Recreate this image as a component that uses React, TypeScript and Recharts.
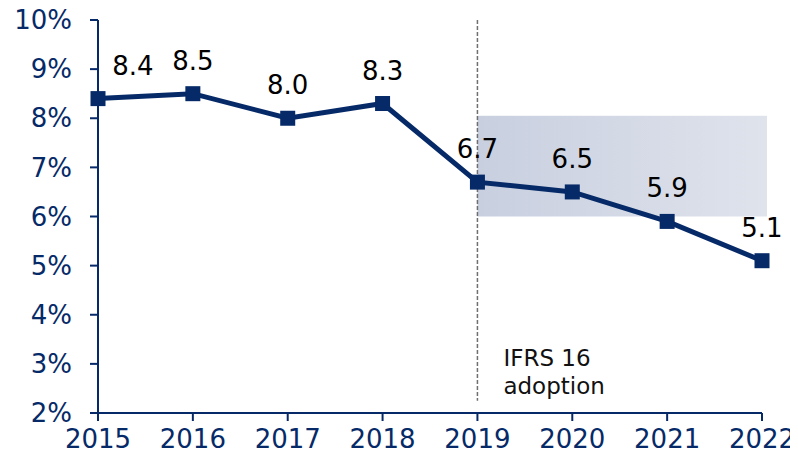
import React from 'react';
import { LineChart, Line, XAxis, YAxis, ReferenceArea, ReferenceLine, LabelList } from 'recharts';

const years = ['2015', '2016', '2017', '2018', '2019', '2020', '2021', '2022'];
const ratio = [8.4, 8.5, 8.0, 8.3, 6.7, 6.5, 5.9, 5.1];
const yTicks = [2, 3, 4, 5, 6, 7, 8, 9, 10];

const NAVY = '#062a68';
const FONT = '"DejaVu Sans", Verdana, sans-serif';

const data = years.map((year, i) => ({ year, value: ratio[i] }));

const SquareDot = (p: any) => (
    <rect key={`d-${p.index}`} x={p.cx - 7.5} y={p.cy - 7.5} width={15} height={15} fill={NAVY} />
);

const ValueLabel = (p: any) => {
    // first label sits to the right so it clears the axis
    const dx = p.index === 0 ? 35 : 0;
    return (
        <text x={p.x + dx} y={p.y - 24} textAnchor="middle" fontSize={26} fontFamily={FONT} fill="#000">
            {Number(p.value).toFixed(1)}
        </text>
    );
};

const IfrsLabel = (p: any) => {
    const vb = p.viewBox || {};
    return (
        <text fontSize={23} fontFamily={FONT} fill="#111">
            <tspan x={vb.x + 26} y={vb.y + 346}>IFRS 16</tspan>
            <tspan x={vb.x + 26} y={vb.y + 374}>adoption</tspan>
        </text>
    );
};

const ShadeRect = (p: any) => (
    <rect x={p.x} y={p.y} width={p.width + 5} height={p.height} fill="url(#shade)" />
);

const App: React.FC = () => {
    return (
        <div style={{ margin: '-8px 0 0 -8px', width: 798, height: 466 }}>
            <LineChart width={798} height={466} data={data} margin={{ top: 20, right: 36, bottom: 0, left: 0 }}>
                <defs>
                    <linearGradient id="shade" x1="0" y1="0" x2="1" y2="0">
                        <stop offset="0%" stopColor="#c8cfdf" />
                        <stop offset="100%" stopColor="#dfe3ec" />
                    </linearGradient>
                </defs>
                <XAxis
                    dataKey="year"
                    stroke={NAVY}
                    strokeWidth={2}
                    tickSize={8}
                    height={53}
                    tick={{ fill: NAVY, fontSize: 26, fontFamily: FONT }}
                    tickMargin={9}
                    interval={0}
                />
                <YAxis
                    domain={[2, 10]}
                    ticks={yTicks}
                    width={98}
                    stroke={NAVY}
                    strokeWidth={2}
                    tickSize={8}
                    tickMargin={18}
                    tickFormatter={(v: number) => `${v}%`}
                    tick={{ fill: NAVY, fontSize: 26, fontFamily: FONT }}
                />
                <ReferenceArea x1="2019" x2="2022" y1={6} y2={8.05} shape={ShadeRect} ifOverflow="visible" />
                <ReferenceLine
                    segment={[{ x: '2019', y: 10 }, { x: '2019', y: 2.25 }]}
                    stroke="#6f6f6f"
                    strokeDasharray="4 2"
                    strokeWidth={1.5}
                    label={<IfrsLabel />}
                />
                <Line
                    dataKey="value"
                    stroke={NAVY}
                    strokeWidth={5}
                    dot={SquareDot}
                    isAnimationActive={false}
                >
                    <LabelList dataKey="value" content={ValueLabel} />
                </Line>
            </LineChart>
        </div>
    );
};

export default App;
